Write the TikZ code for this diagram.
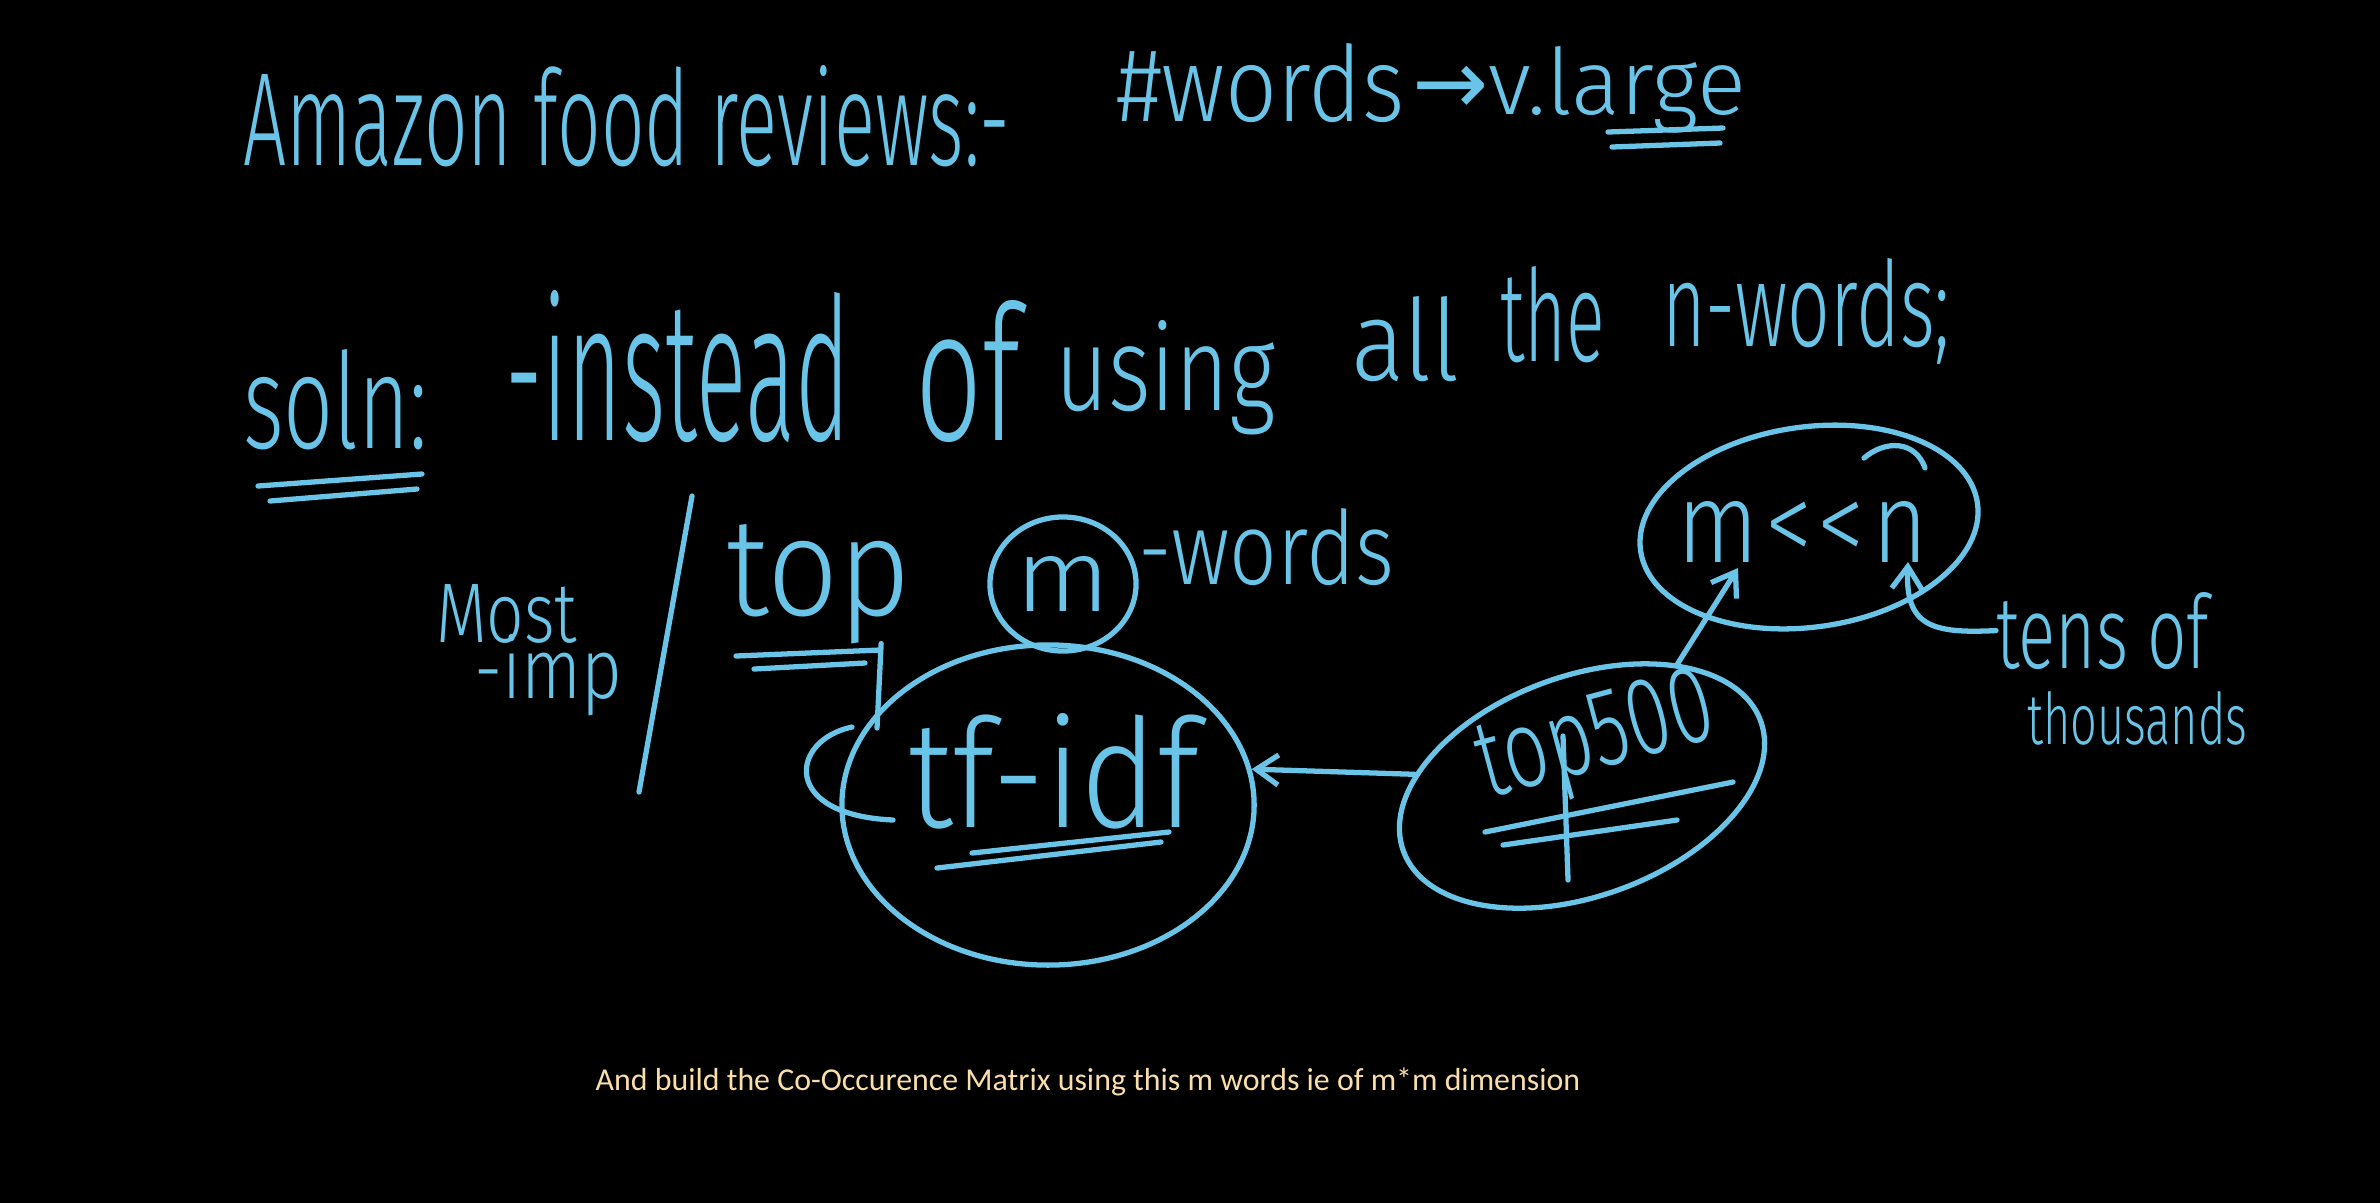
\documentclass[tikz,border=0pt]{standalone}
\usepackage{fontspec}
\setmainfont{Fira Sans}[UprightFont=* Light]
\newfontfamily\capfont{Carlito}
\newfontfamily\dvfont{DejaVu Sans}
\usetikzlibrary{shapes.geometric,arrows.meta}
\definecolor{chalk}{RGB}{105,196,232}
\definecolor{captioncol}{RGB}{250,222,170}
\newcommand\hw[3]{\resizebox{#1cm}{#2cm}{#3}}
\tikzset{
  txt/.style={text=chalk,inner sep=0pt,outer sep=0pt,anchor=base west},
  pen/.style={draw=chalk,line width=1.5pt,line cap=round,line join=round},
  ring/.style={pen,ellipse,inner sep=0pt},
  arr/.style={pen,-{Straight Barb[length=0.22cm,width=0.3cm]}}
}
\begin{document}
\begin{tikzpicture}[x=0.01cm,y=-0.01cm]
\useasboundingbox (0,0) rectangle (2380,1202);
\fill[black] (-20,-20) rectangle (2400,1222);
% title line
\node[txt] (amazon) at (243,165) {\hw{7.67}{1.0}{Amazon food reviews:-}};
\node[txt] (nwords) at (1116,121) {\hw{2.88}{0.78}{\#words}};
\node[txt] (vlarge) at (1412,114) {\hw{3.34}{0.68}{{\dvfont →}v.large}};
\draw[pen] (1608,132) -- (1723,128);
\draw[pen] (1612,147) -- (1720,143);
% soln line
\node[txt] (soln) at (243,448) {\hw{1.85}{0.99}{soln:}};
\draw[pen] (258,486) -- (422,474);
\draw[pen] (270,501) -- (417,489);
\node[txt] (instead) at (505,440) {\hw{3.45}{1.5}{-instead}};
\node[txt] (of) at (915,440) {\hw{1.05}{1.4}{of}};
\node[txt] (using) at (1055,410) {\hw{2.2}{0.9}{using}};
\node[txt] (all) at (1351,380) {\hw{1.09}{0.84}{all}};
\node[txt] (the) at (1500,361) {\hw{1.05}{0.95}{the}};
\node[txt] (nw) at (1662,346) {\hw{2.88}{0.88}{n-words;}};
% most imp / top
\node[txt] (most) at (436,642) {\hw{1.41}{0.58}{Most}};
\node[txt] (imp) at (474,698) {\hw{1.48}{0.64}{-imp}};
\coordinate (slashtop) at (692,496);
\coordinate (slashbot) at (639,792);
\draw[pen] (slashtop) -- (slashbot);
\node[txt] (top) at (726,615) {\hw{1.85}{0.91}{top}};
\draw[pen] (736,656) -- (880,650);
\draw[pen] (754,669) -- (865,663);
% m circle
\node[ring,minimum width=1.46cm,minimum height=1.34cm] (mc) at (1063,584) {};
\node[text=chalk,inner sep=0pt] (mtxt) at (mc.center) {\hw{0.95}{0.55}{m}};
\node[txt] (mwords) at (1138,584) {\hw{2.56}{0.76}{-words}};
% tf-idf
\node[ring,minimum width=4.12cm,minimum height=3.2cm] (tf) at (1048,805) {};
\node[txt] (tftxt) at (908,827) {\hw{2.91}{1.14}{tf-idf}};
\draw[pen] (937,868) -- (1161,842);
\draw[pen] (972,853) -- (1169,832);
% top -> tf-idf hook
\coordinate (pdesc) at (877,728);
\draw[pen] (top.south east) ++(-30,0) -- (pdesc);
\coordinate (hookin) at (893,820);
\draw[pen] (852,727) .. controls (790,740) and (780,815) .. (hookin);
% top500
\node[ring,minimum width=3.8cm,minimum height=2.2cm,rotate=20] (ts) at (1582,786) {};
\node[text=chalk,inner sep=0pt,rotate=15] (tstxt) at (1597,742) {\hw{2.4}{0.75}{top500}};
\draw[pen] (1485,832) -- (1733,782);
\draw[pen] (1503,845) -- (1677,820);
\draw[pen] (1563,736) -- (1568,880);
\draw[arr] (ts.156) -- (tf.10);
% m << n
\node[ring,minimum width=3.4cm,minimum height=2.0cm,rotate=8] (mn) at (1809,527) {};
\node[txt] (mntxt) at (1677,562) {\hw{2.51}{0.61}{m\kern0.08em<\kern0.05em<\kern0.08em n}};
\draw[pen] (1864,458) .. controls (1885,440) and (1915,440) .. (1925,468);
\coordinate (mbot) at (1738,568);
\draw[arr] (ts.32) -- (mbot);
% tens of thousands
\node[txt] (tens) at (1996,668) {\hw{2.13}{0.76}{tens of}};
\node[txt] (thous) at (2027,744) {\hw{2.2}{0.53}{thousands}};
\coordinate (nbot) at (1908,562);
\draw[arr] (tens.west) .. controls (1930,634) and (1905,625) .. (nbot);
% caption
\node[anchor=base west,inner sep=0pt,text=captioncol] (cap) at (595,1090)
  {\resizebox{9.84cm}{!}{\capfont And build the Co-Occurence Matrix using this m words ie of m*m dimension}};
\end{tikzpicture}
\end{document}
